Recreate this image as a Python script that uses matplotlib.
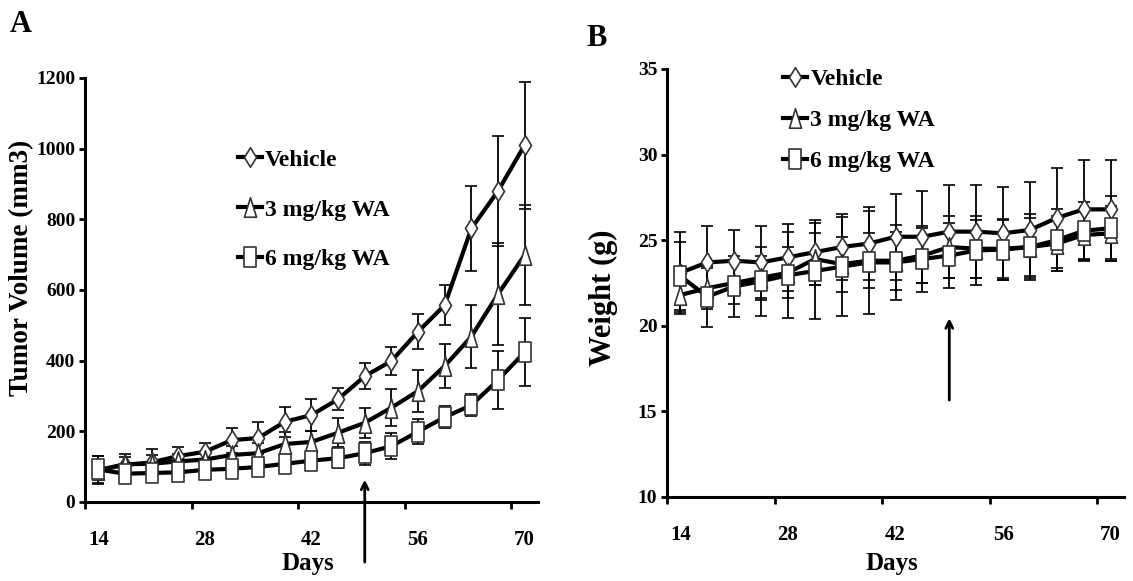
import numpy as np
import matplotlib
matplotlib.use('Agg')
import matplotlib.pyplot as plt
from matplotlib.path import Path
from matplotlib.lines import Line2D

plt.rcParams['font.family'] = ['Liberation Serif', 'DejaVu Serif']
plt.rcParams['font.weight'] = 'bold'

# measurement days (every 3.5 days from day 14 to 70)
days = [14, 17.5, 21, 24.5, 28, 31.5, 35, 38.5, 42, 45.5, 49, 52.5, 56, 59.5, 63, 66.5, 70]
tick_days = [14, 28, 42, 56, 70]
labels = ['Vehicle', '3 mg/kg WA', '6 mg/kg WA']

# panel A - tumor volume (mm3)
vol_vehicle = [90, 105, 112, 130, 142, 175, 181, 227, 246, 291, 356, 399, 482, 557, 774, 880, 1010]
vol_vehicle_err = [40, 30, 38, 25, 24, 35, 45, 43, 45, 32, 36, 40, 50, 57, 120, 155, 180]
vol_3mg = [90, 107, 108, 115, 120, 133, 138, 164, 170, 196, 224, 267, 314, 385, 468, 588, 699]
vol_3mg_err = [20, 20, 25, 20, 20, 25, 30, 35, 30, 41, 43, 52, 60, 63, 90, 145, 141]
vol_6mg = [92, 80, 82, 84, 91, 94, 99, 108, 117, 124, 138, 158, 199, 240, 274, 345, 424]
vol_6mg_err = [38, 25, 18, 15, 15, 15, 15, 15, 20, 28, 33, 36, 36, 31, 31, 83, 97]

# panel B - body weight (g)
wt_vehicle = [23.1, 23.7, 23.8, 23.7, 24.0, 24.3, 24.6, 24.8, 25.2, 25.2, 25.5, 25.5, 25.4, 25.6, 26.3, 26.8, 26.8]
wt_vehicle_err = [2.4, 2.1, 1.8, 2.1, 1.95, 1.9, 1.9, 2.15, 2.5, 2.7, 2.7, 2.7, 2.7, 2.8, 2.9, 2.9, 2.9]
wt_3mg = [21.8, 22.2, 22.5, 22.8, 23.1, 23.9, 23.6, 23.8, 23.8, 24.1, 24.6, 24.5, 24.5, 24.6, 24.8, 25.3, 25.4]
wt_3mg_err = [1.0, 1.2, 1.2, 1.3, 1.5, 1.5, 1.6, 1.6, 1.7, 1.6, 1.8, 1.7, 1.7, 1.7, 1.6, 1.5, 1.6]
wt_6mg = [22.9, 21.7, 22.3, 22.6, 22.95, 23.2, 23.45, 23.7, 23.7, 23.9, 24.1, 24.4, 24.45, 24.6, 25.0, 25.55, 25.7]
wt_6mg_err = [2.0, 1.8, 1.8, 2.0, 2.5, 2.8, 2.9, 3.0, 2.2, 1.9, 1.9, 2.0, 1.8, 1.9, 1.8, 1.7, 1.9]

# day the arrow points at
arrow_day = 49

# tall, narrow markers like the original figure
w = 0.62
diamond = Path([(0, 1), (w, 0), (0, -1), (-w, 0), (0, 1)], closed=True)
triangle = Path([(0, 1), (w, -1), (-w, -1), (0, 1)], closed=True)
square = Path([(-w, -1), (w, -1), (w, 1), (-w, 1), (-w, -1)], closed=True)
markers = [diamond, triangle, square]


def draw_panel(ax, series, errs, ylim, yticks, ylabel, ylab_pos, xlab_y, arrow, leg_anchor, leg_spacing):
    for vals, err, mk, lab in zip(series, errs, markers, labels):
        ax.errorbar(days, vals, yerr=err, color='black', lw=3, ecolor='black', elinewidth=1.3,
                    capsize=4, capthick=2, marker=mk, ms=14, mfc='white', mec='#333333', mew=1.2,
                    label=lab)
    ax.set_xlim(12.25, 71.75)
    ax.set_ylim(*ylim)
    ax.set_yticks(yticks)
    ax.set_xticks(tick_days)
    ax.set_xticks([d - 1.75 for d in tick_days], minor=True)
    ax.tick_params(axis='x', which='major', length=0, pad=20, labelsize=15)
    ax.tick_params(axis='x', which='minor', length=5, width=2, direction='out')
    ax.tick_params(axis='y', length=4, width=2, pad=3, labelsize=14)
    for s in ['top', 'right']:
        ax.spines[s].set_visible(False)
    for s in ['left', 'bottom']:
        ax.spines[s].set_linewidth(2.2)
    ax.set_xlabel('Days', fontsize=18, fontweight='bold')
    ax.xaxis.set_label_coords(0.493, xlab_y)
    ax.set_ylabel(ylabel, fontsize=ylab_pos[2], fontweight='bold')
    ax.yaxis.set_label_coords(ylab_pos[0], ylab_pos[1])
    ax.annotate('', xy=(arrow_day, arrow[1]), xytext=(arrow_day, arrow[0]),
                arrowprops=dict(arrowstyle='->,head_length=0.5,head_width=0.25', lw=2, color='black'),
                annotation_clip=False)
    handles = [Line2D([], [], color='black', lw=3, marker=mk, ms=14, mfc='white',
                      mec='#333333', mew=1.2) for mk in markers]
    ax.legend(handles, labels, loc='upper left', bbox_to_anchor=leg_anchor, frameon=False,
              fontsize=17, handlelength=1.0, handletextpad=0.15, labelspacing=leg_spacing,
              borderpad=0, borderaxespad=0)


fig = plt.figure(figsize=(11.33, 5.81), dpi=100)
ax1 = fig.add_axes([0.0750, 0.1360, 0.3998, 0.7298])
ax2 = fig.add_axes([0.5887, 0.1446, 0.4034, 0.7367])

draw_panel(ax1, [vol_vehicle, vol_3mg, vol_6mg], [vol_vehicle_err, vol_3mg_err, vol_6mg_err],
           (0, 1200), range(0, 1201, 200), 'Tumor Volume (mm3)', (-0.112, 0.552, 19.5), -0.118,
           (-178, 71), (0.338, 0.832), 1.2)
draw_panel(ax2, [wt_vehicle, wt_3mg, wt_6mg], [wt_vehicle_err, wt_3mg_err, wt_6mg_err],
           (10, 35), range(10, 36, 5), 'Weight (g)', (-0.108, 0.465, 22), -0.128,
           (15.5, 20.6), (0.254, 1.0), 0.82)

fig.text(21 / 1133, 1 - 24 / 581, 'A', fontsize=22, fontweight='bold', ha='center', va='center')
fig.text(597 / 1133, 1 - 38 / 581, 'B', fontsize=22, fontweight='bold', ha='center', va='center')

fig.savefig('out.png', dpi=100)
